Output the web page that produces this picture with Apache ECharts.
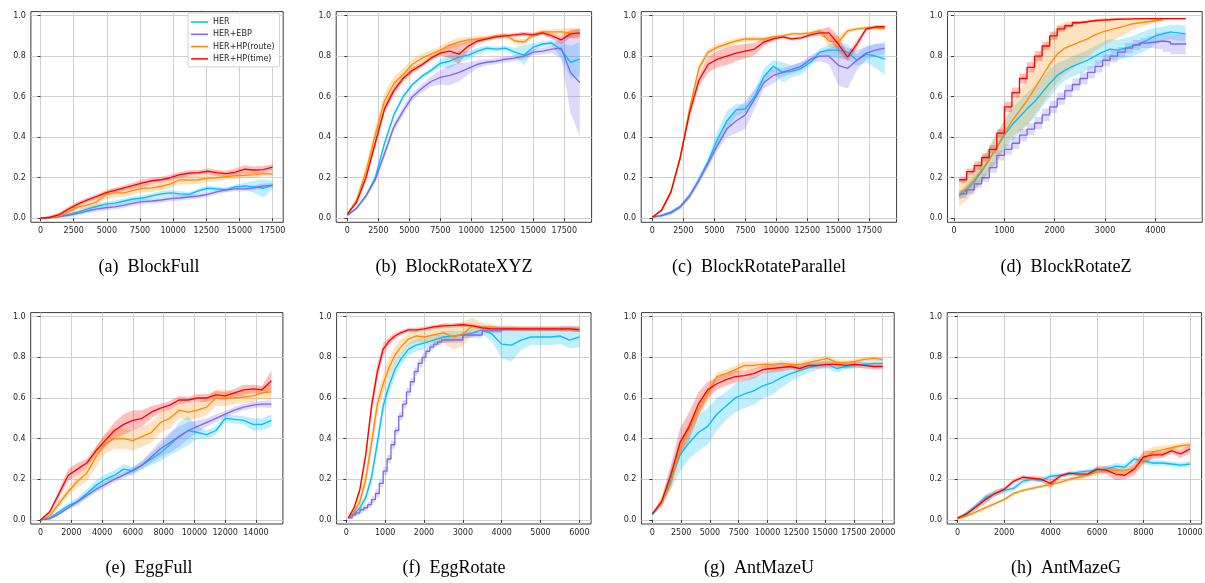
<!DOCTYPE html>
<html>
<head>
<meta charset="utf-8">
<title>HER success rate</title>
<script src="https://cdn.jsdelivr.net/npm/echarts@6/dist/echarts.min.js"></script>
<style>
  html, body { margin: 0; padding: 0; background: #fff; }
  #chart { width: 1205px; height: 583px; }
</style>
</head>
<body>
<div id="chart"></div>
<script>
// 曲线名称和标题
var seriesNames = ['HER', 'HER+EBP', 'HER+HP(route)', 'HER+HP(time)'];
var captions = ['(a)  BlockFull', '(b)  BlockRotateXYZ', '(c)  BlockRotateParallel', '(d)  BlockRotateZ',
                '(e)  EggFull', '(f)  EggRotate', '(g)  AntMazeU', '(h)  AntMazeG'];

// 刻度
var yTicks = [0, 0.2, 0.4, 0.6, 0.8, 1.0];
var xTicksBlockFull = [0, 2500, 5000, 7500, 10000, 12500, 15000, 17500];
var xTicksBlockRotate = [0, 2500, 5000, 7500, 10000, 12500, 15000, 17500];
var xTicksBlockRotateZ = [0, 1000, 2000, 3000, 4000];
var xTicksEggFull = [0, 2000, 4000, 6000, 8000, 10000, 12000, 14000];
var xTicksEggRotate = [0, 1000, 2000, 3000, 4000, 5000, 6000];
var xTicksAntMazeU = [0, 2500, 5000, 7500, 10000, 12500, 15000, 17500, 20000];
var xTicksAntMazeG = [0, 2000, 4000, 6000, 8000, 10000];

// (a) BlockFull
var xBlockFull = [0, 700, 1400, 2100, 2800, 3500, 4200, 4900, 5600, 6300, 7000, 7700, 8400, 9100, 9800, 10500, 11200, 11900, 12600, 13300, 14000, 14700, 15400, 16100, 16800, 17500];
var herBlockFull = [0, 0.003, 0.008, 0.018, 0.03, 0.045, 0.058, 0.07, 0.075, 0.085, 0.095, 0.1, 0.11, 0.12, 0.125, 0.12, 0.118, 0.135, 0.148, 0.145, 0.14, 0.155, 0.16, 0.155, 0.148, 0.165];
var herBlockFullSd = [0.002, 0.003, 0.005, 0.008, 0.01, 0.012, 0.012, 0.012, 0.012, 0.012, 0.012, 0.012, 0.013, 0.015, 0.015, 0.015, 0.012, 0.012, 0.012, 0.012, 0.01, 0.012, 0.015, 0.03, 0.045, 0.02];
var ebpBlockFull = [0, 0.003, 0.008, 0.015, 0.024, 0.035, 0.045, 0.052, 0.056, 0.065, 0.075, 0.082, 0.085, 0.09, 0.097, 0.1, 0.105, 0.11, 0.118, 0.13, 0.14, 0.145, 0.145, 0.15, 0.16, 0.162];
var ebpBlockFullSd = [0.002, 0.003, 0.005, 0.008, 0.01, 0.012, 0.013, 0.013, 0.013, 0.013, 0.013, 0.013, 0.013, 0.013, 0.013, 0.013, 0.013, 0.012, 0.012, 0.012, 0.012, 0.012, 0.012, 0.012, 0.012, 0.012];
var routeBlockFull = [0, 0.004, 0.012, 0.03, 0.055, 0.065, 0.08, 0.115, 0.125, 0.125, 0.138, 0.148, 0.15, 0.158, 0.17, 0.19, 0.188, 0.19, 0.198, 0.2, 0.205, 0.21, 0.212, 0.215, 0.22, 0.218];
var routeBlockFullSd = [0.002, 0.005, 0.008, 0.01, 0.015, 0.015, 0.02, 0.02, 0.02, 0.02, 0.02, 0.02, 0.02, 0.02, 0.02, 0.022, 0.02, 0.02, 0.018, 0.018, 0.015, 0.015, 0.015, 0.015, 0.012, 0.012];
var timeBlockFull = [0, 0.005, 0.018, 0.045, 0.07, 0.09, 0.107, 0.125, 0.138, 0.15, 0.162, 0.175, 0.185, 0.19, 0.2, 0.215, 0.222, 0.225, 0.232, 0.225, 0.22, 0.228, 0.242, 0.238, 0.24, 0.252];
var timeBlockFullSd = [0.002, 0.008, 0.01, 0.012, 0.012, 0.012, 0.012, 0.012, 0.012, 0.013, 0.015, 0.018, 0.015, 0.015, 0.015, 0.015, 0.015, 0.012, 0.015, 0.015, 0.015, 0.018, 0.02, 0.018, 0.018, 0.015];

// (b) BlockRotateXYZ 和 (c) BlockRotateParallel 共用横坐标
var xBlockRotate = [0, 750, 1500, 2250, 3000, 3750, 4500, 5250, 6000, 6750, 7500, 8250, 9000, 9750, 10500, 11250, 12000, 12750, 13500, 14250, 15000, 15750, 16500, 17250, 18000, 18750];
var herXYZ = [0.015, 0.05, 0.11, 0.2, 0.37, 0.51, 0.6, 0.66, 0.7, 0.73, 0.765, 0.775, 0.795, 0.805, 0.825, 0.84, 0.835, 0.84, 0.82, 0.805, 0.845, 0.86, 0.865, 0.83, 0.77, 0.785];
var herXYZSd = [0.003, 0.005, 0.01, 0.012, 0.012, 0.012, 0.012, 0.01, 0.01, 0.01, 0.02, 0.035, 0.03, 0.02, 0.015, 0.012, 0.012, 0.012, 0.02, 0.05, 0.02, 0.012, 0.015, 0.04, 0.08, 0.085];
var ebpXYZ = [0.015, 0.05, 0.11, 0.19, 0.32, 0.45, 0.53, 0.6, 0.64, 0.675, 0.695, 0.705, 0.72, 0.74, 0.76, 0.77, 0.775, 0.785, 0.79, 0.8, 0.82, 0.825, 0.835, 0.84, 0.72, 0.67];
var ebpXYZSd = [0.003, 0.005, 0.01, 0.015, 0.02, 0.02, 0.02, 0.02, 0.02, 0.025, 0.035, 0.05, 0.045, 0.03, 0.02, 0.015, 0.015, 0.015, 0.015, 0.015, 0.015, 0.015, 0.02, 0.05, 0.2, 0.265];
var routeXYZ = [0.02, 0.09, 0.23, 0.41, 0.58, 0.665, 0.71, 0.76, 0.79, 0.81, 0.83, 0.855, 0.87, 0.88, 0.885, 0.89, 0.9, 0.905, 0.875, 0.87, 0.905, 0.92, 0.92, 0.92, 0.915, 0.91];
var routeXYZSd = [0.005, 0.015, 0.03, 0.04, 0.04, 0.035, 0.03, 0.025, 0.025, 0.02, 0.02, 0.02, 0.02, 0.015, 0.015, 0.012, 0.01, 0.01, 0.015, 0.015, 0.012, 0.012, 0.012, 0.015, 0.025, 0.025];
var timeXYZ = [0.02, 0.08, 0.2, 0.37, 0.54, 0.63, 0.69, 0.73, 0.757, 0.79, 0.815, 0.825, 0.81, 0.85, 0.875, 0.885, 0.895, 0.9, 0.905, 0.91, 0.905, 0.915, 0.9, 0.88, 0.91, 0.915];
var timeXYZSd = [0.005, 0.01, 0.015, 0.02, 0.02, 0.02, 0.015, 0.015, 0.012, 0.012, 0.012, 0.035, 0.05, 0.025, 0.012, 0.01, 0.01, 0.01, 0.01, 0.01, 0.01, 0.01, 0.015, 0.02, 0.02, 0.02];

var herParallel = [0.005, 0.012, 0.025, 0.055, 0.11, 0.19, 0.28, 0.39, 0.48, 0.535, 0.54, 0.6, 0.7, 0.75, 0.72, 0.725, 0.74, 0.77, 0.82, 0.83, 0.83, 0.82, 0.78, 0.81, 0.8, 0.785];
var herParallelSd = [0.003, 0.005, 0.008, 0.01, 0.012, 0.015, 0.02, 0.04, 0.05, 0.03, 0.02, 0.03, 0.04, 0.03, 0.05, 0.03, 0.03, 0.02, 0.015, 0.03, 0.04, 0.04, 0.03, 0.04, 0.06, 0.075];
var ebpParallel = [0.005, 0.015, 0.03, 0.058, 0.11, 0.185, 0.27, 0.36, 0.44, 0.48, 0.51, 0.59, 0.67, 0.705, 0.72, 0.735, 0.75, 0.785, 0.8, 0.8, 0.755, 0.74, 0.78, 0.815, 0.83, 0.84];
var ebpParallelSd = [0.003, 0.005, 0.008, 0.01, 0.015, 0.02, 0.02, 0.025, 0.04, 0.06, 0.07, 0.05, 0.03, 0.04, 0.02, 0.02, 0.02, 0.02, 0.025, 0.04, 0.1, 0.1, 0.05, 0.03, 0.03, 0.03];
var routeParallel = [0.005, 0.04, 0.13, 0.3, 0.54, 0.74, 0.82, 0.845, 0.86, 0.875, 0.885, 0.885, 0.885, 0.895, 0.9, 0.91, 0.91, 0.915, 0.925, 0.875, 0.87, 0.925, 0.935, 0.94, 0.94, 0.935];
var routeParallelSd = [0.002, 0.005, 0.01, 0.015, 0.02, 0.02, 0.015, 0.015, 0.015, 0.015, 0.012, 0.012, 0.01, 0.01, 0.008, 0.008, 0.008, 0.008, 0.01, 0.03, 0.03, 0.01, 0.008, 0.008, 0.008, 0.008];
var timeParallel = [0.005, 0.04, 0.13, 0.3, 0.52, 0.68, 0.76, 0.785, 0.8, 0.815, 0.825, 0.835, 0.87, 0.885, 0.895, 0.885, 0.89, 0.905, 0.915, 0.915, 0.86, 0.795, 0.86, 0.935, 0.945, 0.945];
var timeParallelSd = [0.002, 0.005, 0.01, 0.015, 0.02, 0.03, 0.04, 0.04, 0.045, 0.04, 0.035, 0.03, 0.02, 0.01, 0.008, 0.008, 0.008, 0.01, 0.015, 0.03, 0.04, 0.02, 0.02, 0.01, 0.008, 0.008];

// (d) BlockRotateZ
var xBlockRotateZ = [100, 250, 400, 550, 700, 850, 1000, 1150, 1300, 1450, 1600, 1750, 1900, 2050, 2200, 2350, 2500, 2650, 2800, 2950, 3100, 3250, 3400, 3550, 3700, 3850, 4000, 4150, 4300, 4450, 4600];
var herRotZ = [0.11, 0.14, 0.18, 0.23, 0.29, 0.35, 0.41, 0.46, 0.5, 0.54, 0.575, 0.62, 0.665, 0.705, 0.73, 0.75, 0.765, 0.78, 0.8, 0.82, 0.835, 0.83, 0.84, 0.85, 0.865, 0.88, 0.9, 0.91, 0.92, 0.915, 0.91];
var herRotZSd = [0.02, 0.03, 0.04, 0.05, 0.06, 0.07, 0.07, 0.08, 0.08, 0.08, 0.08, 0.07, 0.07, 0.06, 0.05, 0.05, 0.05, 0.05, 0.05, 0.05, 0.05, 0.05, 0.05, 0.05, 0.05, 0.05, 0.04, 0.035, 0.035, 0.04, 0.04];
var ebpRotZ = [0.12, 0.14, 0.17, 0.2, 0.25, 0.31, 0.34, 0.37, 0.41, 0.44, 0.47, 0.51, 0.55, 0.59, 0.63, 0.66, 0.69, 0.72, 0.75, 0.78, 0.8, 0.82, 0.84, 0.855, 0.865, 0.87, 0.875, 0.87, 0.86, 0.86, 0.865];
var ebpRotZSd = [0.02, 0.02, 0.02, 0.02, 0.025, 0.025, 0.025, 0.03, 0.03, 0.03, 0.03, 0.03, 0.03, 0.03, 0.03, 0.03, 0.03, 0.03, 0.03, 0.03, 0.03, 0.025, 0.025, 0.025, 0.025, 0.03, 0.04, 0.05, 0.05, 0.05, 0.05];
var routeRotZ = [0.12, 0.15, 0.19, 0.24, 0.29, 0.35, 0.42, 0.48, 0.53, 0.58, 0.64, 0.7, 0.76, 0.81, 0.84, 0.855, 0.87, 0.885, 0.905, 0.92, 0.93, 0.94, 0.95, 0.96, 0.965, 0.97, 0.975, 0.98, null, null, null];
var routeRotZSd = [0.06, 0.06, 0.06, 0.06, 0.06, 0.07, 0.07, 0.08, 0.1, 0.12, 0.13, 0.14, 0.14, 0.14, 0.13, 0.12, 0.1, 0.09, 0.08, 0.07, 0.06, 0.05, 0.04, 0.03, 0.02, 0.015, 0.01, 0.008, null, null, null];
var timeRotZ = [0.19, 0.23, 0.26, 0.3, 0.34, 0.42, 0.55, 0.62, 0.69, 0.745, 0.8, 0.85, 0.9, 0.935, 0.95, 0.965, 0.97, 0.975, 0.978, 0.98, 0.982, 0.983, 0.984, 0.985, 0.985, 0.985, 0.985, 0.985, 0.985, 0.985, 0.985];
var timeRotZSd = [0.015, 0.015, 0.02, 0.02, 0.02, 0.02, 0.025, 0.025, 0.025, 0.025, 0.025, 0.02, 0.02, 0.015, 0.01, 0.008, 0.006, 0.005, 0.005, 0.005, 0.004, 0.004, 0.004, 0.004, 0.004, 0.004, 0.004, 0.004, 0.004, 0.004, 0.004];

// (e) EggFull
var xEggFull = [0, 600, 1200, 1800, 2400, 3000, 3600, 4200, 4800, 5400, 6000, 6600, 7200, 7800, 8400, 9000, 9600, 10200, 10800, 11400, 12000, 12600, 13200, 13800, 14400, 15000];
var herEggFull = [0, 0.01, 0.04, 0.07, 0.09, 0.13, 0.17, 0.2, 0.22, 0.25, 0.24, 0.27, 0.3, 0.33, 0.37, 0.41, 0.44, 0.43, 0.42, 0.44, 0.5, 0.495, 0.49, 0.47, 0.47, 0.49];
var herEggFullSd = [0.002, 0.005, 0.01, 0.015, 0.02, 0.02, 0.025, 0.025, 0.025, 0.025, 0.02, 0.02, 0.03, 0.04, 0.05, 0.07, 0.07, 0.03, 0.02, 0.02, 0.02, 0.02, 0.02, 0.03, 0.03, 0.03];
var ebpEggFull = [0, 0.005, 0.03, 0.06, 0.09, 0.12, 0.15, 0.175, 0.2, 0.22, 0.245, 0.27, 0.31, 0.35, 0.38, 0.41, 0.44, 0.46, 0.48, 0.5, 0.52, 0.54, 0.555, 0.565, 0.57, 0.57];
var ebpEggFullSd = [0.002, 0.005, 0.008, 0.01, 0.012, 0.015, 0.015, 0.015, 0.015, 0.015, 0.015, 0.02, 0.03, 0.04, 0.05, 0.05, 0.04, 0.03, 0.02, 0.02, 0.015, 0.015, 0.015, 0.015, 0.015, 0.02];
var routeEggFull = [0, 0.02, 0.08, 0.14, 0.19, 0.23, 0.31, 0.375, 0.4, 0.4, 0.39, 0.41, 0.43, 0.48, 0.5, 0.54, 0.53, 0.54, 0.555, 0.6, 0.6, 0.6, 0.605, 0.61, 0.625, 0.63];
var routeEggFullSd = [0.002, 0.01, 0.02, 0.02, 0.03, 0.04, 0.05, 0.05, 0.05, 0.05, 0.05, 0.05, 0.05, 0.05, 0.05, 0.04, 0.04, 0.04, 0.04, 0.04, 0.04, 0.03, 0.03, 0.03, 0.03, 0.04];
var timeEggFull = [0, 0.04, 0.13, 0.22, 0.25, 0.28, 0.34, 0.39, 0.44, 0.47, 0.49, 0.5, 0.53, 0.55, 0.565, 0.59, 0.59, 0.6, 0.6, 0.615, 0.61, 0.625, 0.64, 0.645, 0.64, 0.685];
var timeEggFullSd = [0.002, 0.01, 0.02, 0.03, 0.03, 0.02, 0.02, 0.03, 0.04, 0.05, 0.05, 0.04, 0.03, 0.02, 0.02, 0.02, 0.015, 0.02, 0.02, 0.02, 0.02, 0.02, 0.025, 0.02, 0.02, 0.05];

// (f) EggRotate（HER+EBP 为阶梯状，单独取点）
var xEggRotate = [50, 200, 350, 500, 650, 800, 950, 1100, 1250, 1400, 1600, 1800, 2000, 2250, 2500, 2750, 3000, 3250, 3500, 3750, 4000, 4250, 4500, 4750, 5000, 5250, 5500, 5750, 6000];
var xEggRotateEbp = [50, 150, 250, 350, 450, 550, 650, 750, 850, 950, 1050, 1150, 1250, 1350, 1450, 1550, 1650, 1750, 1850, 1950, 2050, 2150, 2250, 2350, 2450, 3000, 3500, 4000, 4500, 5000, 5500, 6000];
var herEggRot = [0.01, 0.03, 0.06, 0.11, 0.21, 0.38, 0.56, 0.66, 0.74, 0.79, 0.84, 0.86, 0.87, 0.885, 0.9, 0.905, 0.91, 0.92, 0.935, 0.915, 0.865, 0.86, 0.885, 0.9, 0.9, 0.9, 0.905, 0.885, 0.9];
var herEggRotSd = [0.005, 0.01, 0.015, 0.02, 0.03, 0.04, 0.04, 0.04, 0.04, 0.03, 0.03, 0.03, 0.03, 0.03, 0.03, 0.025, 0.02, 0.02, 0.02, 0.04, 0.07, 0.08, 0.05, 0.04, 0.04, 0.04, 0.04, 0.04, 0.05];
var ebpEggRot = [0.01, 0.025, 0.035, 0.05, 0.06, 0.075, 0.1, 0.13, 0.18, 0.24, 0.3, 0.37, 0.44, 0.51, 0.57, 0.63, 0.68, 0.73, 0.77, 0.8, 0.83, 0.85, 0.865, 0.875, 0.885, 0.91, 0.93, 0.94, 0.94, 0.94, 0.94, 0.94];
var ebpEggRotSd = [0.005, 0.01, 0.012, 0.015, 0.015, 0.015, 0.015, 0.02, 0.02, 0.02, 0.02, 0.02, 0.02, 0.02, 0.02, 0.02, 0.02, 0.02, 0.02, 0.02, 0.015, 0.015, 0.015, 0.015, 0.015, 0.015, 0.012, 0.012, 0.012, 0.012, 0.015, 0.015];
var routeEggRot = [0.01, 0.04, 0.09, 0.2, 0.38, 0.57, 0.67, 0.75, 0.81, 0.85, 0.89, 0.905, 0.9, 0.91, 0.92, 0.9, 0.915, 0.955, 0.95, 0.95, 0.945, 0.945, 0.94, 0.94, 0.94, 0.94, 0.94, 0.94, 0.94];
var routeEggRotSd = [0.005, 0.01, 0.02, 0.04, 0.05, 0.05, 0.05, 0.05, 0.04, 0.035, 0.03, 0.03, 0.03, 0.04, 0.05, 0.06, 0.06, 0.04, 0.02, 0.01, 0.01, 0.01, 0.01, 0.01, 0.01, 0.01, 0.01, 0.01, 0.01];
var timeEggRot = [0.01, 0.06, 0.15, 0.32, 0.56, 0.73, 0.84, 0.88, 0.905, 0.92, 0.935, 0.935, 0.94, 0.95, 0.955, 0.957, 0.96, 0.955, 0.945, 0.94, 0.94, 0.94, 0.94, 0.94, 0.94, 0.94, 0.94, 0.94, 0.935];
var timeEggRotSd = [0.005, 0.01, 0.02, 0.03, 0.04, 0.04, 0.03, 0.02, 0.015, 0.012, 0.01, 0.01, 0.01, 0.01, 0.01, 0.01, 0.01, 0.01, 0.01, 0.01, 0.01, 0.01, 0.01, 0.01, 0.01, 0.01, 0.01, 0.012, 0.012];

// (g) AntMazeU（没有 HER+EBP）
var xAntMazeU = [0, 800, 1600, 2400, 3200, 4000, 4800, 5600, 6400, 7200, 8000, 8800, 9600, 10400, 11200, 12000, 12800, 13600, 14400, 15200, 16000, 16800, 17600, 18400, 19200, 20000];
var herMazeU = [0.025, 0.08, 0.2, 0.32, 0.38, 0.43, 0.46, 0.52, 0.56, 0.6, 0.62, 0.635, 0.66, 0.675, 0.7, 0.72, 0.735, 0.75, 0.76, 0.765, 0.745, 0.755, 0.76, 0.765, 0.77, 0.77];
var herMazeUSd = [0.005, 0.02, 0.05, 0.08, 0.08, 0.09, 0.09, 0.08, 0.07, 0.07, 0.07, 0.07, 0.06, 0.06, 0.05, 0.04, 0.03, 0.025, 0.02, 0.02, 0.02, 0.015, 0.015, 0.015, 0.015, 0.015];
var routeMazeU = [0.03, 0.08, 0.18, 0.35, 0.45, 0.54, 0.62, 0.705, 0.72, 0.74, 0.76, 0.76, 0.765, 0.765, 0.77, 0.765, 0.765, 0.775, 0.785, 0.795, 0.775, 0.775, 0.78, 0.79, 0.795, 0.79];
var routeMazeUSd = [0.005, 0.01, 0.03, 0.03, 0.03, 0.03, 0.03, 0.02, 0.02, 0.02, 0.02, 0.02, 0.015, 0.015, 0.015, 0.015, 0.015, 0.015, 0.015, 0.015, 0.015, 0.012, 0.012, 0.01, 0.01, 0.01];
var timeMazeU = [0.03, 0.09, 0.22, 0.38, 0.46, 0.57, 0.64, 0.67, 0.69, 0.705, 0.71, 0.72, 0.74, 0.745, 0.75, 0.755, 0.745, 0.76, 0.76, 0.765, 0.765, 0.76, 0.765, 0.76, 0.755, 0.755];
var timeMazeUSd = [0.005, 0.02, 0.05, 0.07, 0.07, 0.06, 0.04, 0.03, 0.03, 0.03, 0.025, 0.025, 0.02, 0.02, 0.02, 0.015, 0.015, 0.015, 0.015, 0.015, 0.015, 0.015, 0.015, 0.015, 0.015, 0.015];

// (h) AntMazeG（没有 HER+EBP）
var xAntMazeG = [0, 400, 800, 1200, 1600, 2000, 2400, 2800, 3200, 3600, 4000, 4400, 4800, 5200, 5600, 6000, 6400, 6800, 7200, 7600, 8000, 8400, 8800, 9200, 9600, 10000];
var herMazeG = [0.005, 0.035, 0.07, 0.11, 0.13, 0.145, 0.155, 0.19, 0.2, 0.195, 0.215, 0.22, 0.225, 0.235, 0.24, 0.245, 0.25, 0.265, 0.26, 0.3, 0.29, 0.28, 0.28, 0.275, 0.27, 0.275];
var herMazeGSd = [0.003, 0.008, 0.012, 0.015, 0.015, 0.015, 0.012, 0.012, 0.01, 0.01, 0.01, 0.01, 0.01, 0.01, 0.01, 0.012, 0.015, 0.015, 0.015, 0.015, 0.015, 0.015, 0.012, 0.012, 0.012, 0.015];
var routeMazeG = [0.005, 0.02, 0.04, 0.06, 0.08, 0.1, 0.13, 0.145, 0.155, 0.165, 0.175, 0.185, 0.2, 0.21, 0.22, 0.235, 0.245, 0.245, 0.245, 0.25, 0.3, 0.335, 0.345, 0.355, 0.365, 0.37];
var routeMazeGSd = [0.003, 0.005, 0.008, 0.008, 0.008, 0.008, 0.008, 0.008, 0.008, 0.008, 0.01, 0.01, 0.01, 0.012, 0.012, 0.015, 0.015, 0.015, 0.015, 0.02, 0.03, 0.025, 0.02, 0.015, 0.015, 0.015];
var timeMazeG = [0.01, 0.03, 0.065, 0.1, 0.13, 0.15, 0.19, 0.21, 0.205, 0.2, 0.18, 0.215, 0.23, 0.225, 0.225, 0.25, 0.245, 0.225, 0.22, 0.25, 0.31, 0.32, 0.32, 0.34, 0.325, 0.35];
var timeMazeGSd = [0.005, 0.01, 0.015, 0.02, 0.015, 0.012, 0.01, 0.01, 0.01, 0.015, 0.02, 0.01, 0.01, 0.01, 0.01, 0.015, 0.02, 0.03, 0.02, 0.03, 0.03, 0.02, 0.015, 0.015, 0.02, 0.02];

// 颜色（类似 matplotlib 的 deepskyblue / mediumslateblue / darkorange / red）
var lineColors = ['#00bfff', '#7b68ee', '#ff8c00', '#ff0000'];
var bandColors = ['rgba(0,191,255,0.25)', 'rgba(123,104,238,0.25)', 'rgba(255,140,0,0.25)', 'rgba(255,0,0,0.25)'];
var tickFont = 'DejaVu Sans';

// 每个子图：横坐标、各曲线均值和标准差、坐标范围、位置
var panels = [
    { x: xBlockFull, ticks: xTicksBlockFull, min: -730, max: 18300,
      means: [herBlockFull, ebpBlockFull, routeBlockFull, timeBlockFull],
      sds: [herBlockFullSd, ebpBlockFullSd, routeBlockFullSd, timeBlockFullSd],
      grid: [30.9, 11.6, 252.3, 210.7] },
    { x: xBlockRotate, ticks: xTicksBlockRotate, min: -900, max: 19700,
      means: [herXYZ, ebpXYZ, routeXYZ, timeXYZ],
      sds: [herXYZSd, ebpXYZSd, routeXYZSd, timeXYZSd],
      grid: [336.2, 11.6, 255.4, 210.7] },
    { x: xBlockRotate, ticks: xTicksBlockRotate, min: -900, max: 19700,
      means: [herParallel, ebpParallel, routeParallel, timeParallel],
      sds: [herParallelSd, ebpParallelSd, routeParallelSd, timeParallelSd],
      grid: [641.2, 11.6, 255.4, 210.7] },
    { x: xBlockRotateZ, ticks: xTicksBlockRotateZ, min: -130, max: 4930,
      means: [herRotZ, ebpRotZ, routeRotZ, timeRotZ],
      sds: [herRotZSd, ebpRotZSd, routeRotZSd, timeRotZSd],
      step: [false, true, false, true],
      grid: [947.5, 11.6, 254.7, 210.7] },
    { x: xEggFull, ticks: xTicksEggFull, min: -640, max: 15750,
      means: [herEggFull, ebpEggFull, routeEggFull, timeEggFull],
      sds: [herEggFullSd, ebpEggFullSd, routeEggFullSd, timeEggFullSd],
      grid: [30.7, 312.6, 252.2, 211.4] },
    { x: xEggRotate, xs: [null, xEggRotateEbp, null, null], ticks: xTicksEggRotate, min: -250, max: 6300,
      means: [herEggRot, ebpEggRot, routeEggRot, timeEggRot],
      sds: [herEggRotSd, ebpEggRotSd, routeEggRotSd, timeEggRotSd],
      step: [false, true, false, false],
      grid: [336.6, 312.6, 254.4, 211.4] },
    { x: xAntMazeU, ticks: xTicksAntMazeU, min: -950, max: 21000,
      means: [herMazeU, null, routeMazeU, timeMazeU],
      sds: [herMazeUSd, null, routeMazeUSd, timeMazeUSd],
      grid: [641.4, 312.6, 252.8, 211.4] },
    { x: xAntMazeG, ticks: xTicksAntMazeG, min: -450, max: 10500,
      means: [herMazeG, null, routeMazeG, timeMazeG],
      sds: [herMazeGSd, null, routeMazeGSd, timeMazeGSd],
      grid: [947.2, 312.6, 254.4, 211.4] }
];
var captionX = [149, 454, 759, 1066];
var captionY = [267, 568];

// 阴影带：用 custom 系列画一个多边形（上边界 + 反向的下边界）
function makeBandRenderer(fill, stepped) {
    return function (params, api) {
        if (params.dataIndexInside !== 0) return null;
        var up = [], dn = [];
        for (var j = 0; j < params.dataInsideLength; j++) {
            var pu = api.coord([api.value(0, j), api.value(2, j)]);
            var pd = api.coord([api.value(0, j), api.value(1, j)]);
            if (stepped && up.length) {
                up.push([pu[0], up[up.length - 1][1]]);
                dn.push([pd[0], dn[dn.length - 1][1]]);
            }
            up.push(pu);
            dn.push(pd);
        }
        return {
            type: 'polygon',
            shape: { points: up.concat(dn.reverse()) },
            style: { fill: fill },
            silent: true
        };
    };
}

(function () {
    var myChart = echarts.init(document.getElementById('chart'), null, { renderer: 'canvas' });
    var grids = [], xAxes = [], yAxes = [], series = [];

    panels.forEach(function (p, i) {
        grids.push({
            left: p.grid[0], top: p.grid[1], width: p.grid[2], height: p.grid[3],
            show: true, borderColor: '#3a3a3a', borderWidth: 1,
            backgroundColor: 'transparent', containLabel: false, outerBoundsMode: 'none'
        });
        xAxes.push({
            type: 'value', gridIndex: i, min: p.min, max: p.max,
            axisLine: { show: false },
            axisTick: { show: true, length: 3, customValues: p.ticks, lineStyle: { color: '#3a3a3a', width: 1 } },
            axisLabel: {
                customValues: p.ticks, margin: 5, color: '#262626',
                fontSize: 8, fontFamily: tickFont,
                formatter: function (v) { return String(v); }
            },
            splitLine: { show: true, lineStyle: { color: '#d0d0d0', width: 1 } }
        });
        yAxes.push({
            type: 'value', gridIndex: i, min: -0.02, max: 1.02,
            axisLine: { show: false },
            axisTick: { show: true, length: 3, customValues: yTicks, lineStyle: { color: '#3a3a3a', width: 1 } },
            axisLabel: {
                customValues: yTicks, margin: 5, color: '#262626',
                fontSize: 8, fontFamily: tickFont,
                formatter: function (v) { return v.toFixed(1); }
            },
            splitLine: { show: true, lineStyle: { color: '#d0d0d0', width: 1 } }
        });

        p.means.forEach(function (m, k) {
            if (!m) return;
            var sd = p.sds[k];
            var xs = (p.xs && p.xs[k]) || p.x;
            var stepped = !!(p.step && p.step[k]);
            var band = [], mean = [];
            for (var j = 0; j < xs.length; j++) {
                if (m[j] == null) continue;
                mean.push([xs[j], m[j]]);
                band.push([xs[j], m[j] - sd[j], m[j] + sd[j]]);
            }
            series.push({
                type: 'custom', name: seriesNames[k] + ' band',
                xAxisIndex: i, yAxisIndex: i,
                data: band, encode: { x: 0, y: [1, 2] },
                renderItem: makeBandRenderer(bandColors[k], stepped),
                clip: true, silent: true, z: 1
            });
            series.push({
                type: 'line', name: seriesNames[k], xAxisIndex: i, yAxisIndex: i,
                data: mean, symbol: 'none', showSymbol: false,
                step: stepped ? 'end' : false,
                color: lineColors[k],
                lineStyle: { color: lineColors[k], width: 1.35 },
                itemStyle: { color: lineColors[k] },
                z: 3
            });
        });
    });

    var option = {
        animation: false,
        backgroundColor: '#ffffff',
        grid: grids,
        xAxis: xAxes,
        yAxis: yAxes,
        legend: {
            data: seriesNames.map(function (n) { return { name: n, icon: 'rect' }; }),
            orient: 'vertical', left: 188, top: 13,
            itemWidth: 17, itemHeight: 1.5, itemGap: 2.3,
            padding: [4, 5, 3, 3],
            borderColor: '#d0d0d0', borderWidth: 1, borderRadius: 2,
            backgroundColor: 'rgba(255,255,255,0.85)',
            selectedMode: false,
            textStyle: { fontSize: 8, fontFamily: tickFont, color: '#262626', lineHeight: 10 }
        },
        graphic: captions.map(function (c, i) {
            return {
                type: 'text',
                x: captionX[i % 4], y: captionY[Math.floor(i / 4)],
                style: {
                    text: c, fill: '#000',
                    font: '18px "Liberation Serif", "DejaVu Serif", serif',
                    textAlign: 'center', textVerticalAlign: 'middle'
                }
            };
        }),
        series: series
    };
    myChart.setOption(option);
    window.addEventListener('resize', function () {
        myChart.resize();
    });
})();
</script>
</body>
</html>
